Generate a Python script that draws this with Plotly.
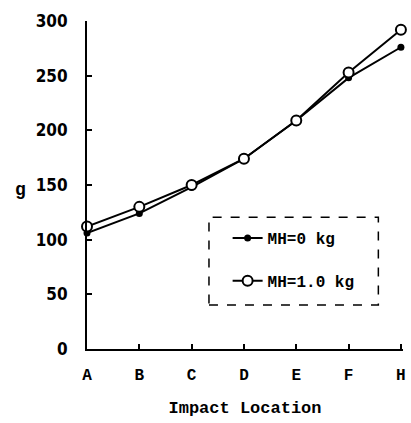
import plotly.graph_objects as go

# Impact locations along the x axis
locations = ["A", "B", "C", "D", "E", "F", "H"]
# Peak acceleration (g) for each head mass setting
g_mh0 = [106, 124, 148, 174, 209, 248, 276]
g_mh1 = [112, 130, 150, 174, 209, 253, 292]
y_ticks = [0, 50, 100, 150, 200, 250, 300]

xi = list(range(len(locations)))
mono = "Liberation Mono"
narrow = "DejaVu Sans Condensed"

fig = go.Figure()
fig.add_trace(go.Scatter(
    x=xi, y=g_mh0, mode="lines+markers", name="MH=0 kg", legendgroup="a",
    line=dict(color="black", width=2),
    marker=dict(symbol="circle", size=7, color="black"),
    cliponaxis=False,
))
fig.add_trace(go.Scatter(
    x=xi, y=g_mh1, mode="lines+markers", name="MH=1.0 kg", legendgroup="b",
    line=dict(color="black", width=2),
    marker=dict(symbol="circle", size=10, color="white",
                line=dict(color="black", width=2)),
    cliponaxis=False,
))

fig.update_layout(
    width=411, height=423,
    margin=dict(l=87, r=5, t=21, b=74),
    paper_bgcolor="white", plot_bgcolor="white",
    showlegend=True,
    legend=dict(
        x=0.445, y=0.39, xanchor="left", yanchor="top",
        bgcolor="rgba(0,0,0,0)", borderwidth=0,
        font=dict(family=mono, size=16, color="black", weight="bold"),
        tracegroupgap=19, itemwidth=30,
    ),
    xaxis=dict(
        range=[0, 6.04], tickmode="array", tickvals=xi, ticktext=locations,
        showline=True, linecolor="black", linewidth=2,
        ticks="inside", ticklen=5, tickwidth=2, tickcolor="black",
        showgrid=False, zeroline=False,
        tickfont=dict(family=mono, size=16, color="black", weight="bold"),
        ticklabelstandoff=10,
        title=dict(text="Impact Location", standoff=17,
                   font=dict(family=mono, size=17, color="black", weight="bold")),
    ),
    yaxis=dict(
        range=[0, 300], tickmode="array", tickvals=y_ticks,
        showline=True, linecolor="black", linewidth=2,
        ticks="inside", ticklen=5, tickwidth=2, tickcolor="black",
        showgrid=False, zeroline=False,
        tickfont=dict(family=narrow, size=17, color="black", weight="bold"),
        ticklabelstandoff=14,
    ),
    annotations=[dict(
        text="g", xref="paper", yref="paper", x=-0.21, y=0.485,
        showarrow=False, xanchor="center", yanchor="middle",
        font=dict(family=mono, size=18, color="black", weight="bold"),
    )],
    shapes=[dict(
        type="rect", xref="paper", yref="paper",
        x0=0.386, x1=0.922, y0=0.134, y1=0.402,
        line=dict(color="black", width=1.5, dash="dash"),
    )],
)

fig.write_html("out.html")
